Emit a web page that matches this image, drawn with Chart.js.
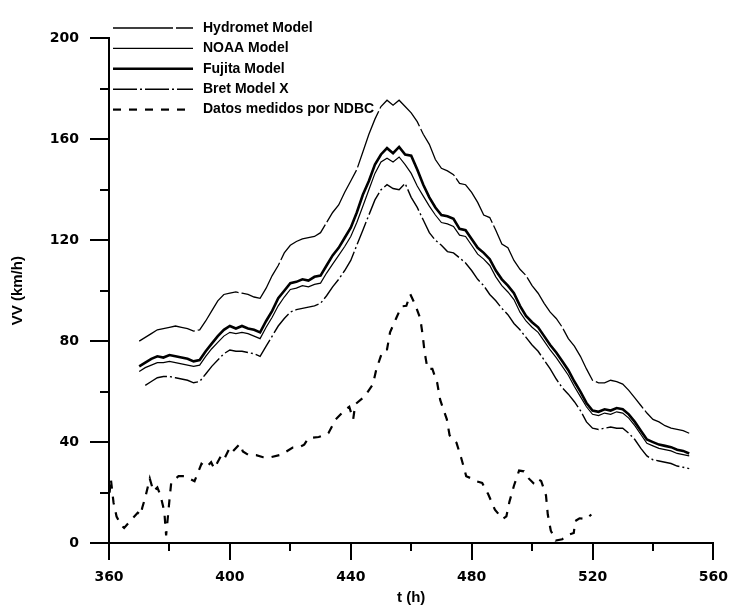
<!DOCTYPE html>
<html>
<head>
<meta charset="utf-8">
<title>VV (km/h) vs t (h)</title>
<script src="https://cdn.jsdelivr.net/npm/chart.js@4.4.1/dist/chart.umd.min.js"></script>
<style>
    html, body { margin: 0; padding: 0; background: #fff; }
    #wrap { position: relative; width: 754px; height: 607px; }
</style>
</head>
<body>
<div id="wrap"><canvas id="vv-chart" width="754" height="607"></canvas></div>
<script>
// ---------------------------------------------------------
// DATA
// ---------------------------------------------------------
const xTicks = [360, 400, 440, 480, 520, 560];
const yTicks = [0, 40, 80, 120, 160, 200];
const xMinorTicks = [380, 420, 460, 500, 540];
const yMinorTicks = [20, 60, 100, 140, 180];

const seriesLabels = [
    "Hydromet Model",
    "NOAA Model",
    "Fujita Model",
    "Bret Model X",
    "Datos medidos por NDBC"
];

// model curves share one time axis (hours)
const modelTime = [
    370, 372, 374, 376, 378, 380, 382, 384, 386, 388,
    390, 392, 394, 396, 398, 400, 402, 404, 406, 408,
    410, 412, 414, 416, 418, 420, 422, 424, 426, 428,
    430, 432, 434, 436, 438, 440, 442, 444, 446, 448,
    450, 452, 454, 456, 458, 460, 462, 464, 466, 468,
    470, 472, 474, 476, 478, 480, 482, 484, 486, 488,
    490, 492, 494, 496, 498, 500, 502, 504, 506, 508,
    510, 512, 514, 516, 518, 520, 522, 524, 526, 528,
    530, 532, 534, 536, 538, 540, 542, 544, 546, 548,
    550, 552
];

const hydrometSpeed = [
    80, 81.5, 83, 84.5, 85, 85.5, 86, 85.5, 85, 84,
    84.5, 88, 92, 96, 98.5, 99, 99.5, 99, 98.5, 97.5,
    97, 101, 106, 110, 115, 118, 119.5, 120.5, 121, 121.5,
    123, 127, 131, 134, 139, 143.5, 148, 155, 162, 168,
    173, 175.5, 173.5, 175.5, 173, 170.5, 167, 162, 158, 152,
    148.5, 147.5, 146, 142.5, 142, 139, 135, 130, 129, 124,
    118.5, 117, 112, 108.5, 106, 102, 99, 95, 91.5, 89,
    85.5, 81, 78, 74, 69, 64.5, 63.5, 63.5, 64.5, 64,
    63, 60.5, 57.5, 54.5, 51.5, 49, 48, 46.5, 45.5, 45,
    44.5, 43.5
];

const noaaSpeed = [
    68, 69.5, 70.5, 71.5, 71.5, 72, 71.5, 71, 70.5, 70,
    70.5, 74, 77, 79.5, 82, 83.5, 83, 83.5, 83, 82,
    81, 85.5, 89.5, 94, 97.5, 100.5, 101, 102, 101.5, 102.5,
    103, 107, 110.5, 114, 117.5, 121.5, 127, 133.5, 140, 146.5,
    151, 152.5, 151, 153, 150, 146.5, 141.5, 137.5, 133.5, 130,
    127, 126.5, 125.5, 122, 121.5, 118, 114.5, 112.5, 110, 105.5,
    102, 99.5, 96.5, 91.5, 88, 85.5, 83.5, 80, 76.5, 73.5,
    70, 66.5, 62, 58, 54, 51, 50.5, 51.5, 51, 52,
    51.5, 49.5, 46.5, 43, 39.5, 38.5, 37.5, 37, 36.5, 35.5,
    35, 34.5
];

const fujitaSpeed = [
    70, 71.5, 73, 74, 73.5, 74.5, 74, 73.5, 73, 72,
    72.5, 76, 79, 82, 84.5, 86, 85, 86, 85, 84.5,
    83.5, 88, 92, 97, 100, 103, 103.5, 104.5, 104, 105.5,
    106, 110, 114, 117, 121, 125, 131, 138, 143.5, 150,
    154, 156.5, 154.5, 157, 154, 153.5, 148, 142, 137, 133,
    130, 129.5, 128.5, 124.5, 124, 120.5, 117, 115, 112.5, 108,
    104.5, 102, 99, 94, 90, 87.5, 85.5, 82, 78.5, 75.5,
    72, 68.5, 64, 60, 55.5, 52.5, 52, 53, 52.5, 53.5,
    53, 51, 48, 44.5, 41, 40, 39, 38.5, 38, 37,
    36.5, 35.5
];

const bretSpeed = [
    null, 62.5, 64, 65.5, 66, 66, 65.5, 65, 64.5, 63.5,
    64, 67, 70, 72.5, 75, 76.5, 76, 76, 75.5, 75,
    74, 78, 82, 86, 89, 91.5, 92.5, 93, 93.5, 94,
    95, 98, 101.5, 104.5, 108, 112, 118, 124, 130, 136,
    140, 142, 140.5, 140, 142.5, 137, 133, 128, 123, 120,
    118, 115.5, 115, 113, 111, 108, 104.5, 102, 98.5, 96,
    93, 90.5, 87, 84.5, 81.5, 78.5, 76, 72.5, 69, 65,
    61.5, 59, 56, 52.5, 48, 45.5, 45, 45.5, 46, 45.5,
    45.5, 43.5, 41, 37.5, 34.5, 33, 32.5, 32, 31.5, 30.5,
    30, 29.5
];

// NDBC buoy measurements (own, irregular time stamps)
const ndbcTime = [
    360.2, 360.6, 361.5, 362.5, 364, 365, 366.5, 368, 369.5, 370.5,
    371, 372, 373.5, 374.7, 376, 377, 378.3, 378.9, 379.5, 380,
    380.6, 383, 385, 388.3, 390.6, 392.2, 393.8, 394.8, 397, 398,
    400, 401, 403.3, 404.3, 406, 408.7, 411, 413.5, 417, 420.8,
    423, 424.6, 426, 429.4, 431, 432.6, 435, 438.3, 439.5, 440.8,
    441.5, 444.5, 447.3, 448.5, 450.5, 452, 453, 455, 456.8, 458.4,
    459.7, 461.3, 463, 463.8, 464.4, 465.4, 467, 468.6, 469.6, 471.8,
    472.7, 475, 476.6, 478.2, 479.7, 481.5, 483.5, 485.5, 487.7, 490.3,
    491.5, 492.5, 494, 495.7, 497.3, 498.8, 500.4, 501.4, 503, 504.6,
    505.2, 506.2, 507.8, 510, 511.6, 513.8, 514.3, 515.7, 518, 519.6
];

const ndbcSpeed = [
    20, 25.5, 16, 10.5, 7, 6, 8, 10, 12, 11,
    14, 18, 25.5, 20.5, 22, 19, 12.5, 3, 10.5, 17,
    24, 26.5, 26.5, 24.5, 31.4, 30, 32, 29.5, 34.4, 33,
    37.8, 36.3, 39.3, 36.3, 35, 34.8, 34, 34, 35, 37.8,
    38, 39, 41.6, 42, 42.7, 43.5, 49, 53, 54, 49,
    55, 58, 62.8, 69, 76, 76.7, 83.5, 89, 93.8, 94,
    98.6, 94.5, 89, 82.4, 76, 69, 69, 63.5, 56.7, 49,
    42.7, 39.7, 33.5, 26.5, 25.7, 24.5, 23.8, 19.3, 13.2, 9.5,
    10.6, 16.3, 22.7, 28.7, 28.4, 25.7, 23.8, 25.7, 24.6, 18.9,
    11.3, 4.9, 1, 1.5, 3, 4, 8.7, 9.8, 9.5, 11.3
];


// ---------------------------------------------------------
// Helpers
// ---------------------------------------------------------
function toPoints(times, values) {
    return times.map((t, i) => ({ x: t, y: values[i] }));
}

function lineSet(label, times, values, width, dash) {
    return {
        label: label,
        data: toPoints(times, values),
        borderColor: "#000",
        backgroundColor: "#000",
        borderWidth: width,
        borderDash: dash,
        pointRadius: 0,
        tension: 0,
        fill: false,
        spanGaps: false,
    };
}


// ---------------------------------------------------------
// Axis ticks + inset legend (drawn on top of the library's scales)
// ---------------------------------------------------------
const refDecor = {
    id: "refDecor",
    afterDraw(chart) {
        const ctx = chart.ctx;
        const xs = chart.scales.x;
        const ys = chart.scales.y;
        const area = chart.chartArea;

        ctx.save();
        ctx.strokeStyle = "#000";
        ctx.lineWidth = 2;
        ctx.setLineDash([]);
        ctx.beginPath();
        xTicks.forEach((v) => {
            const px = Math.round(xs.getPixelForValue(v));
            ctx.moveTo(px, area.bottom);
            ctx.lineTo(px, area.bottom + 17);
        });
        xMinorTicks.forEach((v) => {
            const px = Math.round(xs.getPixelForValue(v));
            ctx.moveTo(px, area.bottom);
            ctx.lineTo(px, area.bottom + 8);
        });
        yTicks.forEach((v) => {
            const py = Math.round(ys.getPixelForValue(v));
            ctx.moveTo(area.left, py);
            ctx.lineTo(area.left - 19, py);
        });
        yMinorTicks.forEach((v) => {
            const py = Math.round(ys.getPixelForValue(v));
            ctx.moveTo(area.left, py);
            ctx.lineTo(area.left - 9, py);
        });
        ctx.stroke();

        // legend, top left inside the plot
        ctx.font = "bold 14px 'Liberation Sans', Arial, sans-serif";
        ctx.textBaseline = "middle";
        ctx.textAlign = "left";
        ctx.fillStyle = "#000";
        chart.data.datasets.forEach((ds, i) => {
            const y = 28 + i * 20.4;
            ctx.beginPath();
            ctx.lineWidth = ds.borderWidth;
            ctx.setLineDash(ds.borderDash || []);
            ctx.moveTo(area.left + 4, y);
            ctx.lineTo(area.left + 84, y);
            ctx.stroke();
            ctx.fillText(ds.label, area.left + 94, y);
        });
        ctx.restore();
    },
};


// ---------------------------------------------------------
// Chart
// ---------------------------------------------------------
const tickFont = { family: "'DejaVu Sans', Arial, sans-serif", size: 14, weight: "bold" };
const titleFont = { family: "'Liberation Sans', Arial, sans-serif", size: 15, weight: "bold" };

new Chart(document.getElementById("vv-chart"), {
    type: "line",
    data: {
        datasets: [
            lineSet(seriesLabels[0], modelTime, hydrometSpeed, 1.3, [60, 3]),
            lineSet(seriesLabels[1], modelTime, noaaSpeed, 1.2, []),
            lineSet(seriesLabels[2], modelTime, fujitaSpeed, 2.6, []),
            lineSet(seriesLabels[3], modelTime, bretSpeed, 1.4, [24, 3, 2, 3]),
            lineSet(seriesLabels[4], ndbcTime, ndbcSpeed, 2.2, [8, 8]),
        ],
    },
    options: {
        responsive: false,
        animation: false,
        events: [],
        layout: { padding: { left: 0, top: 14, right: 17, bottom: 0 } },
        plugins: {
            legend: { display: false },
            tooltip: { enabled: false },
        },
        scales: {
            x: {
                type: "linear",
                min: 360,
                max: 560,
                afterBuildTicks: (scale) => {
                    scale.ticks = xTicks.map((v) => ({ value: v }));
                },
                afterFit: (scale) => { scale.height = 64; },
                grid: { display: false, drawTicks: false },
                border: { display: true, color: "#000", width: 2 },
                ticks: { color: "#000", font: tickFont, padding: 26, maxRotation: 0 },
                title: {
                    display: true,
                    text: "t (h)",
                    color: "#000",
                    font: titleFont,
                    padding: { top: 0, bottom: 0 },
                },
            },
            y: {
                type: "linear",
                min: 0,
                max: 200,
                afterBuildTicks: (scale) => {
                    scale.ticks = yTicks.map((v) => ({ value: v }));
                },
                afterFit: (scale) => { scale.width = 109; },
                grid: { display: false, drawTicks: false },
                border: { display: true, color: "#000", width: 2 },
                ticks: { color: "#000", font: tickFont, padding: 30 },
                title: {
                    display: true,
                    text: "VV (km/h)",
                    color: "#000",
                    font: titleFont,
                    padding: { top: 9, bottom: 0 },
                },
            },
        },
    },
    plugins: [refDecor],
});
</script>
</body>
</html>
